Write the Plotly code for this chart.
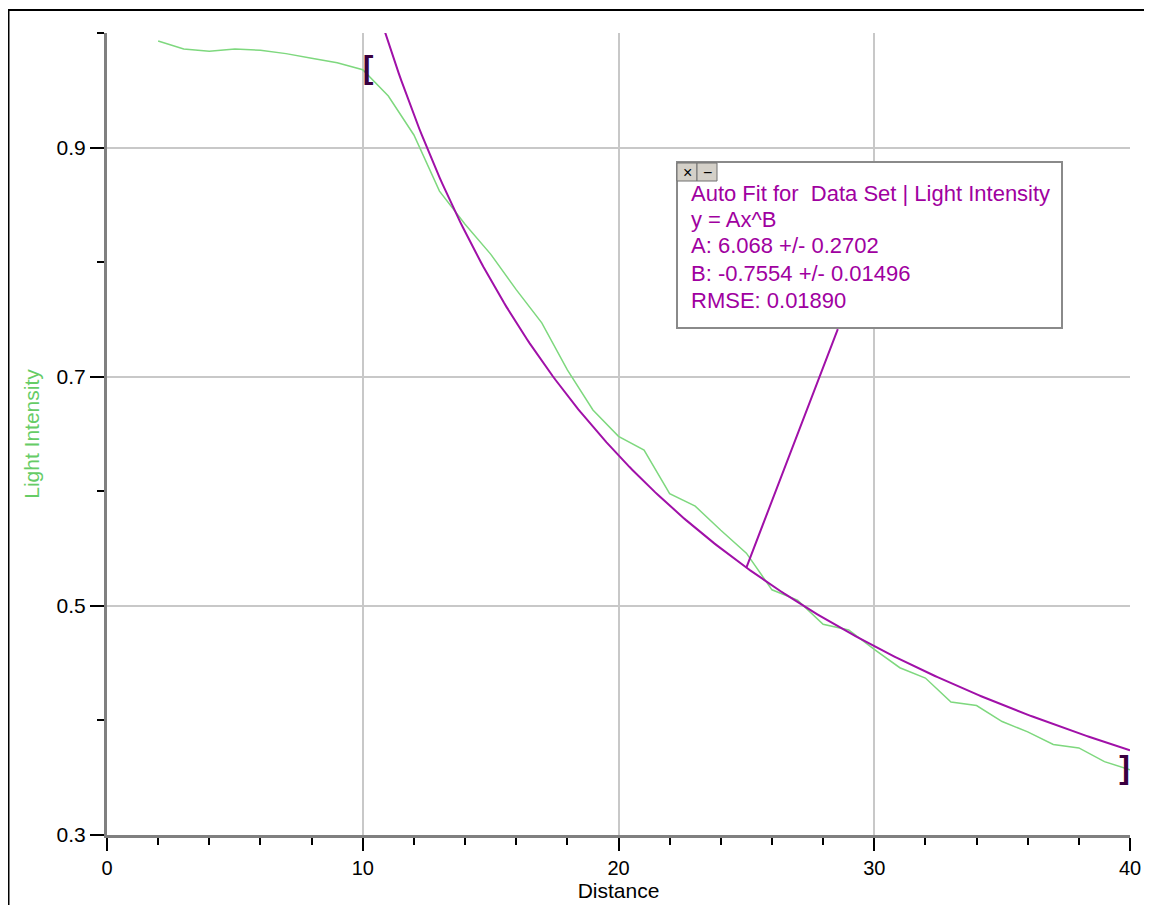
import numpy as np
import plotly.graph_objects as go

# ---- data ----
distance = list(range(2, 41))
light_intensity = [0.993, 0.986, 0.984, 0.986, 0.985, 0.982, 0.978, 0.974, 0.968,
                   0.945, 0.911, 0.862, 0.833, 0.807, 0.776, 0.747, 0.706, 0.671,
                   0.648, 0.636, 0.598, 0.587, 0.566, 0.546, 0.514, 0.505, 0.484,
                   0.479, 0.462, 0.446, 0.437, 0.416, 0.413, 0.399, 0.390, 0.379,
                   0.376, 0.364, 0.357]

# power-law fit shown in the chart's box
fit_A = 6.068
fit_B = -0.7554
fit_start, fit_end = 10, 40
callout_x = 25

fit_lines = ["Auto Fit for  Data Set | Light Intensity",
             "y = Ax^B",
             "A: 6.068 +/- 0.2702",
             "B: -0.7554 +/- 0.01496",
             "RMSE: 0.01890"]

x_ticks = [0, 10, 20, 30, 40]
y_ticks = [0.3, 0.5, 0.7, 0.9]

GREEN = "#7ED87E"
PURPLE = "#A010A8"
TEXTP = "#A000A0"
OFF = 8  # page body margin
W, H = 1144, 897
L, R, T, B = 99, 22, 25, 70
PW, PH = W - L - R, H - T - B

def px(xp):  # page pixel -> paper x
    return (xp - OFF - L) / PW

def py(yp):  # page pixel -> paper y
    return (H - B - (yp - OFF)) / PH

fit_x = np.linspace(fit_start, fit_end, 300)
fit_y = fit_A * fit_x ** fit_B

fig = go.Figure()
fig.add_trace(go.Scatter(x=distance, y=light_intensity, mode="lines",
                         line=dict(color=GREEN, width=1.5), showlegend=False))
fig.add_trace(go.Scatter(x=fit_x, y=fit_y, mode="lines",
                         line=dict(color=PURPLE, width=2), showlegend=False))

# selection brackets at the ends of the fitted region
i0 = distance.index(fit_start)
i1 = distance.index(fit_end)
fig.add_trace(go.Scatter(x=[distance[i0]], y=[light_intensity[i0]], mode="text",
                         text=["<b>[</b>"], textposition="middle right",
                         textfont=dict(size=32, color="#3A0040", family="Arial"),
                         showlegend=False, cliponaxis=False))
fig.add_trace(go.Scatter(x=[distance[i1]], y=[light_intensity[i1]], mode="text",
                         text=["<b>]</b>"], textposition="middle left",
                         textfont=dict(size=32, color="#3A0040", family="Arial"),
                         showlegend=False, cliponaxis=False))

shapes = []
# outer frame
shapes.append(dict(type="rect", xref="paper", yref="paper",
                   x0=px(8.5), x1=px(1170), y0=py(930), y1=py(10),
                   line=dict(color="black", width=2), layer="below"))
# fit info box
shapes.append(dict(type="rect", xref="paper", yref="paper",
                   x0=px(677), x1=px(1062), y0=py(328), y1=py(162),
                   fillcolor="white", line=dict(color="#8a8a8a", width=2),
                   layer="above"))
# close / minimise buttons
for bx0, bx1 in [(677, 697), (697, 717)]:
    shapes.append(dict(type="rect", xref="paper", yref="paper",
                       x0=px(bx0), x1=px(bx1), y0=py(181), y1=py(163),
                       fillcolor="#D4D0C8", line=dict(color="#707070", width=1),
                       layer="above"))

annotations = []
line_y = [193, 220, 246, 273, 300]
for txt, yy in zip(fit_lines, line_y):
    annotations.append(dict(text=txt, xref="paper", yref="paper", x=px(689), y=py(yy),
                            xanchor="left", yanchor="middle", showarrow=False,
                            font=dict(family="Arial", size=22, color=TEXTP)))
annotations.append(dict(text="×", xref="paper", yref="paper", x=px(687), y=py(172),
                        xanchor="center", yanchor="middle", showarrow=False,
                        font=dict(family="Arial", size=16, color="black")))
annotations.append(dict(text="−", xref="paper", yref="paper", x=px(707), y=py(172),
                        xanchor="center", yanchor="middle", showarrow=False,
                        font=dict(family="Arial", size=16, color="black")))
# callout line from box to the fit curve
annotations.append(dict(text="", x=callout_x, y=fit_A * callout_x ** fit_B,
                        xref="x", yref="y", showarrow=True, arrowhead=0,
                        arrowwidth=2, arrowcolor=PURPLE, ax=92, ay=-240,
                        standoff=0, startstandoff=0))

fig.update_layout(
    width=W, height=H,
    margin=dict(l=L, r=R, t=T, b=B, autoexpand=False),
    paper_bgcolor="white", plot_bgcolor="white",
    font=dict(family="Arial", size=20, color="black"),
    shapes=shapes, annotations=annotations,
    xaxis=dict(range=[0, 40], tickvals=x_ticks, ticktext=[str(v) for v in x_ticks],
               automargin=False,
               showgrid=True, gridcolor="#C8C8C8", gridwidth=2,
               showline=True, linecolor="#808080", linewidth=3,
               ticks="outside", ticklen=13, tickcolor="black", tickwidth=1.5,
               minor=dict(dtick=2, tick0=0, ticks="outside", ticklen=7,
                          tickcolor="black", showgrid=False),
               zeroline=False, tickfont=dict(size=20),
               title=dict(text="Distance", font=dict(size=21), standoff=4)),
    yaxis=dict(range=[0.3, 1.0], tickvals=y_ticks, ticktext=[f"{v:.1f}" for v in y_ticks],
               automargin=False,
               showgrid=True, gridcolor="#C8C8C8", gridwidth=2,
               showline=True, linecolor="#808080", linewidth=3,
               ticks="outside", ticklen=14, tickcolor="black", tickwidth=1.5,
               minor=dict(dtick=0.1, tick0=0.3, ticks="outside", ticklen=7,
                          tickcolor="black", showgrid=False),
               zeroline=False, tickfont=dict(size=21),
               title=dict(text="Light Intensity", font=dict(size=21, color="#66CC66"),
                          standoff=12)),
)

fig.write_html("out.html")
